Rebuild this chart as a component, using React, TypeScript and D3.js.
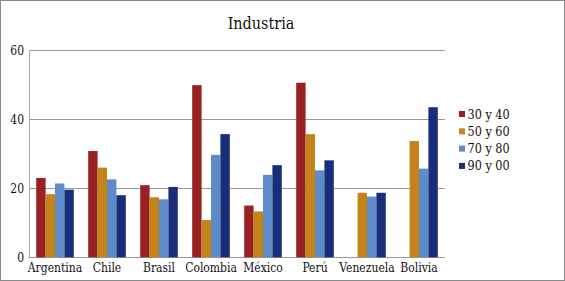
import React from "react";
import * as d3 from "d3";

const categories = ["Argentina", "Chile", "Brasil", "Colombia", "México", "Perú", "Venezuela", "Bolivia"];
const seriesNames = ["30 y 40", "50 y 60", "70 y 80", "90 y 00"];
const s3040: (number | null)[] = [23, 30.8, 20.9, 49.9, 15.0, 50.6, null, null];
const s5060: (number | null)[] = [18.3, 26.0, 17.4, 10.8, 13.3, 35.7, 18.7, 33.7];
const s7080: (number | null)[] = [21.4, 22.6, 16.8, 29.7, 23.9, 25.2, 17.6, 25.7];
const s9000: (number | null)[] = [19.6, 18.0, 20.4, 35.7, 26.7, 28.1, 18.7, 43.5];
const colors = ["#982222", "#C4841A", "#5E8CC8", "#1A2D78"];
const yTicks = [0, 20, 40, 60];

const W = 565, H = 281;
const left = 29, right = 445, top = 50.3, bottom = 257.3;
const FONT = "DejaVu Serif Condensed, DejaVu Serif, serif";

export default function App() {
  const series = [s3040, s5060, s7080, s9000];
  const x = d3.scaleBand<string>().domain(categories).range([left, right]).paddingInner(0.277).paddingOuter(0.1385);
  const xs = d3.scaleBand<number>().domain([0, 1, 2, 3]).range([0, x.bandwidth()]);
  const y = d3.scaleLinear().domain([0, 60]).range([bottom, top]);

  return (
    <svg width={W} height={H} style={{ position: "absolute", left: 0, top: 0, background: "#fff" }} fontFamily={FONT}>
      <rect x={0.5} y={0.5} width={W - 1} height={H - 1} fill="#fff" stroke="#8a8a8a" strokeWidth={1} />
      <text x={261} y={29} textAnchor="middle" fontSize={16} fill="#111">Industria</text>
      {yTicks.map((t) => (
        <g key={t}>
          <line x1={left} x2={right} y1={Math.round(y(t)) + 0.5} y2={Math.round(y(t)) + 0.5} stroke="#999" strokeWidth={1} />
          <text x={24} y={y(t) + 4.5} textAnchor="end" fontSize={12} fill="#111">{t}</text>
        </g>
      ))}
      <line x1={left + 0.5} x2={left + 0.5} y1={top} y2={bottom} stroke="#aaa" strokeWidth={1} />
      {categories.map((c, i) => (
        <g key={c}>
          {series.map((s, j) => {
            const v = s[i];
            if (v == null) return null;
            const bx = (x(c) as number) + (xs(j) as number);
            return (
              <rect key={j} x={bx} y={y(v)} width={xs.bandwidth()} height={bottom - y(v)} fill={colors[j]} />
            );
          })}
          <text x={(x(c) as number) + x.bandwidth() / 2} y={272} textAnchor="middle" fontSize={12} fill="#111">{c}</text>
        </g>
      ))}
      {seriesNames.map((n, j) => (
        <g key={n}>
          <rect x={459} y={111 + j * 17.3} width={6} height={6} fill={colors[j]} />
          <text x={467.5} y={118.5 + j * 17.3} fontSize={12.5} fill="#111">{n}</text>
        </g>
      ))}
    </svg>
  );
}
